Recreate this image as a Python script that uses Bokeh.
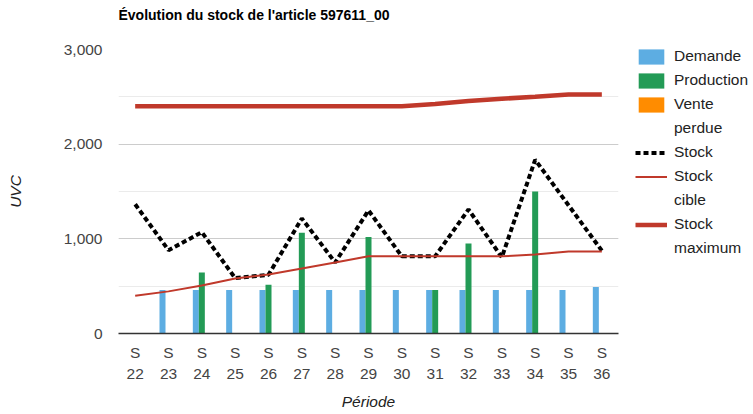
from bokeh.plotting import figure
from bokeh.models import (LinearAxis, FixedTicker, SingleIntervalTicker, Legend, LegendItem,
                          Range1d, NumeralTickFormatter, ColumnDataSource, Title)
from bokeh.transform import dodge
from bokeh.embed import file_html
from bokeh.resources import INLINE

# ---- data ----
prefixe = "S"
semaines = ["22", "23", "24", "25", "26", "27", "28", "29", "30", "31", "32", "33", "34", "35", "36"]
demande = [0, 460, 460, 460, 460, 460, 460, 460, 460, 460, 460, 460, 460, 460, 490]
production = [0, 0, 645, 0, 515, 1065, 0, 1020, 0, 460, 950, 0, 1500, 0, 0]
vente_perdue = [0, 0, 0, 0, 0, 0, 0, 0, 0, 0, 0, 0, 0, 0, 0]
stock = [1365, 880, 1070, 585, 620, 1215, 750, 1300, 815, 815, 1310, 805, 1835, 1355, 875]
stock_cible = [400, 445, 507, 580, 623, 686, 750, 815, 815, 815, 815, 815, 834, 866, 866]
stock_max = [2400, 2400, 2400, 2400, 2400, 2400, 2400, 2400, 2400, 2425, 2455, 2480, 2500, 2525, 2525]

FONT = "Liberation Sans"
C_DEM, C_PROD, C_VENTE, C_RED = "#5DADE2", "#239B56", "#FF8C00", "#C0392B"

x = list(range(len(semaines)))
src = ColumnDataSource(dict(x=x, demande=demande, production=production, vente=vente_perdue,
                            stock=stock, cible=stock_cible, smax=stock_max))

p = figure(frame_width=500, frame_height=284,
           min_border_left=118, min_border_right=135, min_border_top=49, min_border_bottom=81,
           x_range=Range1d(-0.5, len(semaines) - 0.5), y_range=Range1d(0, 3000),
           x_axis_type=None, output_backend="svg", toolbar_location=None, title=None)
p.outline_line_color = None
p.background_fill_color = "white"

# invisible spacer above the frame, then the title outside it
spacer = LinearAxis(ticker=FixedTicker(ticks=[0]), major_label_overrides={0: ""},
                    major_tick_out=27, major_tick_in=0, minor_tick_out=0, minor_tick_in=0,
                    major_label_standoff=0, major_label_text_font_size="1px",
                    axis_line_color=None, major_tick_line_color=None, minor_tick_line_color=None)
p.add_layout(spacer, "above")
titre = Title(text="Évolution du stock de l'article 597611_00", text_font=FONT,
              text_font_size="14px", text_font_style="bold", text_color="#000000",
              align="left", standoff=0, vertical_align="bottom")
p.add_layout(titre, "above")

# y axis
ya = p.yaxis[0]
ya.ticker = SingleIntervalTicker(interval=1000, num_minor_ticks=2)
ya.formatter = NumeralTickFormatter(format="0,0")
ya.axis_line_color = None
ya.major_tick_line_color = None
ya.minor_tick_line_color = None
ya.major_tick_out = 0
ya.minor_tick_out = 0
ya.major_label_text_font = FONT
ya.major_label_text_font_size = "15.5px"
ya.major_label_text_color = "#444444"
ya.major_label_standoff = 16
ya.axis_label = "UVC"
ya.axis_label_text_font = FONT
ya.axis_label_text_font_size = "15.5px"
ya.axis_label_text_font_style = "italic"
ya.axis_label_text_color = "#222222"
ya.axis_label_standoff = 37

p.ygrid.grid_line_color = "#cccccc"
p.ygrid.minor_grid_line_color = "#ebebeb"

# x axes (two rows of labels)
ax1 = LinearAxis(ticker=FixedTicker(ticks=x), major_label_overrides={i: prefixe for i in x})
ax2 = LinearAxis(ticker=FixedTicker(ticks=x), major_label_overrides={i: s for i, s in zip(x, semaines)})
for ax in (ax1, ax2):
    ax.major_tick_line_color = None
    ax.minor_tick_line_color = None
    ax.major_tick_out = 0
    ax.minor_tick_out = 0
    ax.major_label_text_font = FONT
    ax.major_label_text_font_size = "15.5px"
    ax.major_label_text_color = "#444444"
ax1.axis_line_color = "#333333"
ax1.axis_line_width = 1.5
ax1.major_label_standoff = 10
ax2.axis_line_color = None
ax2.major_label_standoff = 5
ax2.axis_label = "Période"
ax2.axis_label_text_font = FONT
ax2.axis_label_text_font_size = "15.5px"
ax2.axis_label_text_font_style = "italic"
ax2.axis_label_text_color = "#222222"
ax2.axis_label_standoff = 11
p.add_layout(ax1, "below")
p.add_layout(ax2, "below")

# bars
bw = 0.18
r_dem = p.vbar(x=dodge("x", -bw), top="demande", width=bw, source=src,
               fill_color=C_DEM, line_color=None)
r_prod = p.vbar(x=dodge("x", 0), top="production", width=bw, source=src,
                fill_color=C_PROD, line_color=None)
r_vente = p.vbar(x=dodge("x", bw), top="vente", width=bw, source=src,
                 fill_color=C_VENTE, line_color=None)

# lines
r_stock = p.line("x", "stock", source=src, line_color="black", line_width=4, line_dash="5 3")
r_cible = p.line("x", "cible", source=src, line_color=C_RED, line_width=2)
r_max = p.line("x", "smax", source=src, line_color=C_RED, line_width=4.5)

# legend helpers (empty data): full swatches and continuation lines of wrapped labels
sw_dem = p.line(x=[], y=[], line_color=C_DEM, line_width=15)
sw_prod = p.line(x=[], y=[], line_color=C_PROD, line_width=15)
sw_vente = p.line(x=[], y=[], line_color=C_VENTE, line_width=15)
blank = p.line(x=[], y=[], line_alpha=0)

legend = Legend(items=[LegendItem(label="Demande", renderers=[r_dem, sw_dem]),
                       LegendItem(label="Production", renderers=[r_prod, sw_prod]),
                       LegendItem(label="Vente", renderers=[r_vente, sw_vente]),
                       LegendItem(label="perdue", renderers=[blank]),
                       LegendItem(label="Stock", renderers=[r_stock]),
                       LegendItem(label="Stock", renderers=[r_cible]),
                       LegendItem(label="cible", renderers=[blank]),
                       LegendItem(label="Stock", renderers=[r_max]),
                       LegendItem(label="maximum", renderers=[blank])],
                location=(17, 73), glyph_width=32, glyph_height=19, label_standoff=7,
                spacing=0, padding=0, margin=0, border_line_color=None, background_fill_alpha=0,
                label_height=24, label_text_font=FONT, label_text_font_size="15.5px",
                label_text_color="#222222")
p.add_layout(legend, "right")

open("out.html", "w").write(file_html(p, INLINE))
